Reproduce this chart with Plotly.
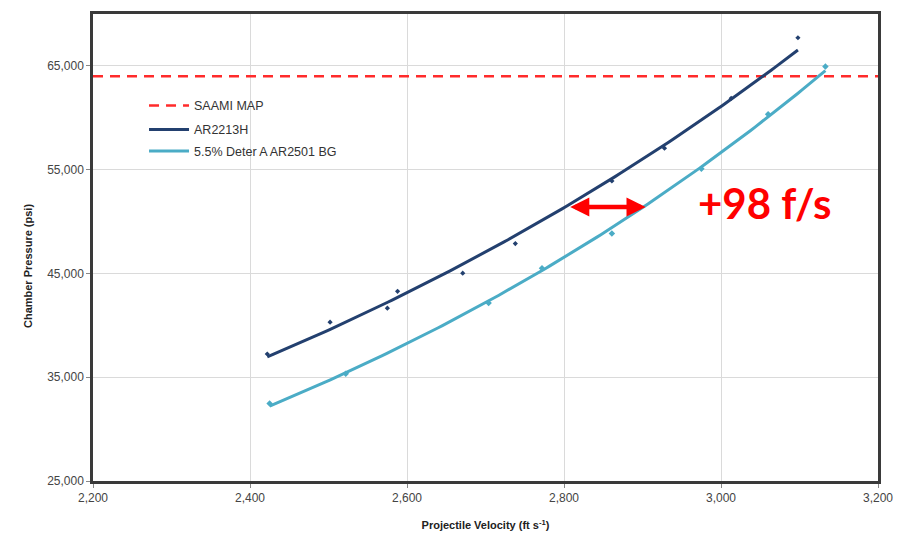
import numpy as np
import plotly.graph_objects as go

# Measured chamber pressure vs. projectile velocity
ar2213h_vel = [2422, 2502, 2575, 2588, 2671, 2738, 2861, 2928, 3013, 3098]
ar2213h_psi = [37240, 40300, 41650, 43280, 45030, 47880, 53910, 57070, 61870, 67710]

deter_vel = [2425, 2522, 2704, 2772, 2861, 2975, 3060, 3133]
deter_psi = [32460, 35330, 42140, 45490, 48850, 55080, 60330, 64930]

saami_map_psi = 64000

# Velocity gain at equal pressure
gain_fps = 98
gain_start_vel = 2806
gain_psi = 51400

x_ticks = [2200, 2400, 2600, 2800, 3000, 3200]
y_ticks = [25000, 35000, 45000, 55000, 65000]

DARK = "#23406F"
LIGHT = "#4BACC6"
RED = "#FF2B2B"
FONT = "Liberation Sans, Arial, sans-serif"


def trend(vel, psi, n=120):
    """Exponential trendline (least squares on log pressure)."""
    b, a = np.polyfit(vel, np.log(psi), 1)
    xs = np.linspace(min(vel), max(vel), n)
    return xs, np.exp(a + b * xs)


fig = go.Figure()

# SAAMI maximum average pressure
fig.add_trace(go.Scatter(
    x=[x_ticks[0], x_ticks[-1]], y=[saami_map_psi, saami_map_psi],
    mode="lines", name="SAAMI MAP", legend="legend",
    line=dict(color=RED, width=2.5, dash="10px,7px"),
))

tx, ty = trend(ar2213h_vel, ar2213h_psi)
fig.add_trace(go.Scatter(
    x=tx, y=ty, mode="lines", name="AR2213H", legendgroup="a", legend="legend2",
    line=dict(color=DARK, width=3),
))
fig.add_trace(go.Scatter(
    x=ar2213h_vel, y=ar2213h_psi, mode="markers", legendgroup="a",
    showlegend=False, marker=dict(color=DARK, size=4, symbol="diamond"),
))

tx2, ty2 = trend(deter_vel, deter_psi)
fig.add_trace(go.Scatter(
    x=tx2, y=ty2, mode="lines", name="5.5% Deter A AR2501 BG", legendgroup="b",
    legend="legend3", line=dict(color=LIGHT, width=3),
))
fig.add_trace(go.Scatter(
    x=deter_vel, y=deter_psi, mode="markers", legendgroup="b",
    showlegend=False, marker=dict(color=LIGHT, size=5, symbol="diamond"),
))

# Double-headed arrow showing the velocity gain
fig.add_annotation(
    x=gain_start_vel + gain_fps, y=gain_psi,
    ax=gain_start_vel, ay=gain_psi,
    xref="x", yref="y", axref="x", ayref="y",
    text="", showarrow=True, arrowside="end+start",
    arrowhead=2, arrowsize=0.85, arrowwidth=4.5, arrowcolor="#FF0000",
)
fig.add_annotation(
    x=3055, y=gain_psi + 350, xref="x", yref="y",
    text=f"<b>+{gain_fps} f/s</b>", showarrow=False,
    xanchor="center", yanchor="middle",
    font=dict(family="Lato, Open Sans, sans-serif", size=42, color="#FF0000"),
)

# Vertical axis title
fig.add_annotation(
    x=-0.083, y=0.46, xref="paper", yref="paper",
    text="<b>Chamber Pressure (psi)</b>", textangle=-90, showarrow=False,
    xanchor="center", yanchor="middle",
    font=dict(family=FONT, size=11, color="#222222"),
)

axis_common = dict(
    showline=True, mirror=True, linecolor="#3A3A3A", linewidth=2.5,
    showgrid=True, gridcolor="#DADADA", gridwidth=1,
    ticks="outside", ticklen=4, tickcolor="#888888", tickwidth=1,
    zeroline=False,
    tickfont=dict(family=FONT, size=12, color="#444444"),
)

legend_common = dict(
    xanchor="left", yanchor="middle", bgcolor="rgba(0,0,0,0)", borderwidth=0,
    font=dict(family=FONT, size=12.5, color="#333333"), itemwidth=40,
)
legend_x = 0.065

fig.update_layout(
    width=904, height=542,
    margin=dict(l=93, r=24, t=11, b=61),
    paper_bgcolor="white", plot_bgcolor="white",
    xaxis=dict(
        range=[2200, 3200], tickvals=x_ticks,
        ticktext=[f"{v:,}" for v in x_ticks],
        title=dict(text="<b>Projectile Velocity (ft s<sup>-1</sup>)</b>", standoff=18,
                   font=dict(family=FONT, size=11, color="#222222")),
        **axis_common,
    ),
    yaxis=dict(
        range=[25000, 70000], tickvals=y_ticks,
        ticktext=[f"{v:,}" for v in y_ticks],
        **axis_common,
    ),
    legend=dict(x=legend_x, y=0.803, **legend_common),
    legend2=dict(x=legend_x, y=0.752, **legend_common),
    legend3=dict(x=legend_x, y=0.706, **legend_common),
    showlegend=True,
)

fig.write_html("out.html")
